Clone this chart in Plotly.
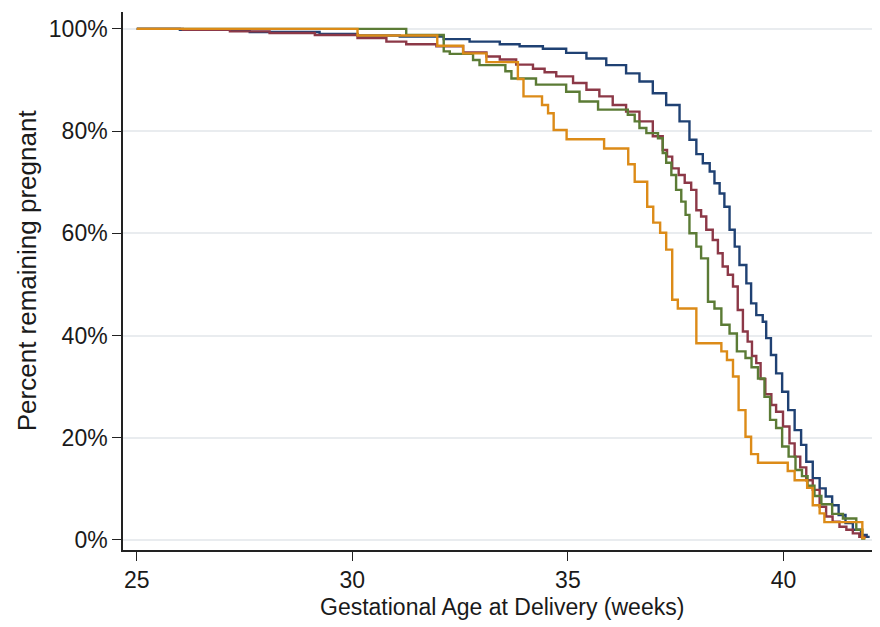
import plotly.graph_objects as go

# ---- data (weeks, percent remaining pregnant) ----
navy_weeks = [25.00, 26.00, 27.62, 29.24, 30.12, 31.10, 32.12, 32.72, 33.42, 33.88, 34.42, 34.96,
              35.43, 35.89, 36.35, 36.66, 36.97, 37.28, 37.59, 37.82, 37.98, 38.13, 38.29, 38.40,
              38.52, 38.63, 38.75, 38.87, 38.98, 39.14, 39.25, 39.37, 39.52, 39.60, 39.71, 39.83,
              39.97, 40.11, 40.26, 40.41, 40.53, 40.68, 40.84, 40.98, 41.13, 41.28, 41.44, 41.61,
              41.80, 41.93, 42.00]
navy_pct = [100, 99.8, 99.4, 99.0, 98.7, 98.5, 98.0, 97.5, 97.0, 96.6, 96.1, 95.3,
            94.2, 92.9, 91.3, 89.7, 87.4, 85.1, 81.9, 78.3, 75.5, 73.7, 72.1, 69.8,
            67.8, 65.2, 60.7, 57.4, 53.8, 50.2, 46.3, 44.0, 42.7, 39.5, 36.2, 32.6,
            29.0, 25.4, 21.5, 18.6, 15.3, 12.1, 10.1, 8.5, 6.8, 4.9, 3.3, 2.0,
            1.0, 0.6, 0.6]

maroon_weeks = [25.00, 26.07, 27.16, 28.08, 29.13, 30.12, 30.79, 31.25, 31.95, 32.57, 33.11, 33.42,
                33.80, 34.19, 34.46, 34.73, 35.12, 35.43, 35.73, 36.04, 36.35, 36.66, 36.97, 37.20,
                37.30, 37.42, 37.57, 37.71, 37.86, 37.98, 38.09, 38.21, 38.36, 38.48, 38.59, 38.71,
                38.83, 38.94, 39.06, 39.17, 39.27, 39.37, 39.47, 39.58, 39.72, 39.83, 39.99, 40.14,
                40.26, 40.39, 40.53, 40.68, 40.84, 40.99, 41.14, 41.30, 41.46, 41.61, 41.76, 41.92]
maroon_pct = [100, 99.8, 99.5, 99.2, 98.8, 98.2, 97.5, 97.0, 96.6, 95.4, 94.6, 94.0,
              93.0, 92.2, 91.5, 90.7, 89.4, 88.1, 86.8, 85.1, 83.8, 81.9, 79.0, 76.3,
              75.0, 72.7, 71.4, 69.9, 68.5, 64.5, 63.3, 60.7, 58.7, 56.1, 53.5, 51.9,
              49.6, 45.0, 40.8, 38.8, 36.0, 34.6, 31.5, 28.5, 26.4, 25.1, 22.2, 18.9,
              16.3, 14.2, 11.7, 9.8, 6.5, 4.6, 3.6, 2.6, 2.0, 1.3, 0.6, 0.6]

green_weeks = [25.00, 31.25, 32.12, 32.26, 32.80, 32.95, 33.55, 33.69, 34.26, 34.96, 35.27, 35.70,
               36.39, 36.55, 36.66, 36.82, 37.09, 37.20, 37.28, 37.40, 37.51, 37.63, 37.73, 37.82,
               37.98, 38.09, 38.25, 38.40, 38.56, 38.75, 38.92, 39.12, 39.26, 39.41, 39.56, 39.69,
               39.83, 39.97, 40.12, 40.28, 40.43, 40.56, 40.72, 40.88, 41.13, 41.38, 41.69, 41.83,
               41.90]
green_pct = [100, 98.8, 95.6, 95.1, 93.9, 92.9, 91.7, 90.3, 89.1, 87.7, 85.8, 84.2,
             83.2, 81.9, 80.6, 79.6, 78.6, 75.7, 73.8, 71.4, 68.5, 66.2, 63.6, 60.0,
             57.4, 55.1, 46.6, 45.3, 42.1, 40.4, 36.9, 35.6, 33.8, 31.6, 28.0, 23.5,
             21.9, 18.3, 16.3, 13.7, 12.5, 10.6, 8.6, 7.0, 5.1, 4.2, 2.0, 0.3,
             0.3]

orange_weeks = [25.00, 30.12, 31.97, 32.57, 33.11, 33.84, 33.97, 34.40, 34.54, 34.67, 34.97, 35.84,
                36.40, 36.55, 36.84, 36.98, 37.14, 37.28, 37.42, 37.55, 37.98, 38.56, 38.69, 38.83,
                38.96, 39.12, 39.25, 39.41, 40.10, 40.26, 40.55, 40.68, 40.84, 40.95, 41.83, 41.90]
orange_pct = [100, 98.7, 96.7, 95.2, 93.5, 90.2, 86.8, 85.1, 83.5, 80.2, 78.4, 76.6,
              73.5, 70.1, 65.2, 62.1, 60.1, 56.8, 47.0, 45.3, 38.5, 36.9, 35.2, 32.0,
              25.4, 20.2, 16.8, 15.1, 13.5, 11.7, 10.2, 6.8, 5.2, 3.5, 0.4, 0.4]

y_ticks = [0, 20, 40, 60, 80, 100]
y_tick_labels = ["0%", "20%", "40%", "60%", "80%", "100%"]
x_ticks = [25, 30, 35, 40]

series = [
    ("navy", navy_weeks, navy_pct, "#1f4173"),
    ("maroon", maroon_weeks, maroon_pct, "#8c3847"),
    ("green", green_weeks, green_pct, "#5b7b35"),
    ("orange", orange_weeks, orange_pct, "#dc8b18"),
]

fig = go.Figure()
for name, xs, ys, col in series:
    fig.add_trace(go.Scatter(x=xs, y=ys, mode="lines", name=name,
                             line=dict(color=col, width=2.4, shape="hv"),
                             hoverinfo="skip"))

font_family = "Liberation Sans, Arial, sans-serif"
# page body has an 8px margin, so the figure is sized to fit the 880x627 window
fig.update_layout(
    width=872, height=619,
    margin=dict(l=115, r=0, t=4, b=77),
    paper_bgcolor="white", plot_bgcolor="white",
    showlegend=False,
    font=dict(family=font_family, size=23, color="#1a1a1a"),
)
fig.update_xaxes(
    range=[24.68, 42.24], tickmode="array", tickvals=x_ticks,
    ticks="outside", ticklen=9, tickwidth=1.3, tickcolor="#222",
    showline=True, linecolor="#222", linewidth=1.5,
    showgrid=False, zeroline=False,
    tickfont=dict(size=23),
)
fig.update_yaxes(
    range=[-1.96, 103.3], tickmode="array", tickvals=y_ticks, ticktext=y_tick_labels,
    ticks="outside", ticklen=9, tickwidth=1.3, tickcolor="#222",
    showline=True, linecolor="#222", linewidth=1.5,
    showgrid=True, gridcolor="#e9ecef", gridwidth=1.5, zeroline=False,
    tickfont=dict(size=23),
)
fig.add_annotation(text="Gestational Age at Delivery (weeks)", xref="paper", yref="paper",
                   x=0.5, y=0, xanchor="center", yanchor="middle", yshift=-57,
                   showarrow=False, font=dict(size=23))
fig.add_annotation(text="Percent remaining pregnant", xref="paper", yref="paper",
                   x=0, y=0.52, xanchor="center", yanchor="middle", xshift=-96,
                   textangle=-90, showarrow=False, font=dict(size=26))

fig.write_html("out.html")
